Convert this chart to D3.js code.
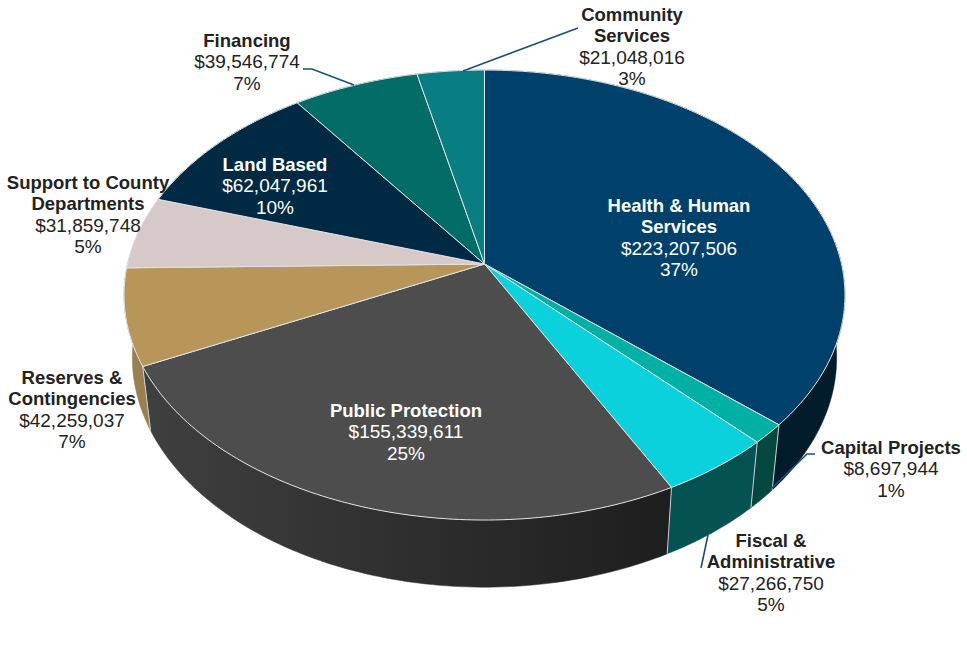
<!DOCTYPE html>
<html><head><meta charset="utf-8">
<script src="https://cdn.jsdelivr.net/npm/d3@7"></script>
<style>html,body{margin:0;padding:0;background:#fff}svg{display:block}</style>
</head><body><div id="chart"></div>
<script>
// ---- data ----
const categories = ["Health & Human Services","Capital Projects","Fiscal & Administrative","Public Protection","Reserves & Contingencies","Support to County Departments","Land Based","Financing","Community Services"];
const nameLines = [["Health & Human","Services"],["Capital Projects"],["Fiscal &","Administrative"],["Public Protection"],["Reserves &","Contingencies"],["Support to County","Departments"],["Land Based"],["Financing"],["Community","Services"]];
const budget = [223207506,8697944,27266750,155339611,42259037,31859748,62047961,39546774,21048016];
const percentLabels = ["37%","1%","5%","25%","7%","5%","10%","7%","3%"];
// ---- style and layout (not data) ----
const topColors = ["#00416b","#00b0a4","#0bd1dd","#4d4d4d","#b8965a","#d6c9c7","#002a44","#006c65","#087d82"];
const wallColors = ["#021c2c","#04473f","#055253","url(#wallGrad)","#9a7f50","#a89e9c","#001726","#00413d","#054b4e"];
const labelPos = [[679,212,"#fff"],[891,454,"#222"],[771,547,"#222"],[406,417,"#fff"],[72,384,"#222"],[88,189,"#222"],[275,171,"#fff"],[247,47,"#222"],[632,21,"#222"]];
const leaders = [
  [[463,71],[578,28]],
  [[354,85],[312,69],[303,69]],
  [[770,490],[807,454],[815,454]],
  [[708,535],[701,568]]
];
const W=967,H=659,P=0.138,step=Math.PI/180;

const svg=d3.select("#chart").append("svg").attr("width",W).attr("height",H);
const grad=svg.append("defs").append("linearGradient").attr("id","wallGrad")
  .attr("gradientUnits","userSpaceOnUse").attr("x1",150).attr("x2",665).attr("y1",0).attr("y2",0);
grad.append("stop").attr("offset",0).attr("stop-color","#3f3f3f");
grad.append("stop").attr("offset",1).attr("stop-color","#1e1e1e");

const sx=d3.scaleLinear().domain([-1,1]).range([484.5-357,484.5+357]);
const sy=d3.scaleLinear().domain([-1,1]).range([264-220.7,264+220.7]);
const bx=d3.scaleLinear().domain([-1,1]).range([484.5-357*.977,484.5+357*.977]);
const by=d3.scaleLinear().domain([-1,1]).range([326-220.7*1.02,326+220.7*1.02]);
const unit=a=>{const u=Math.sin(a),v=-Math.cos(a),d=1-P*v;return [u/d,v/d];};
const topPt=a=>{const [u,v]=unit(a);return [sx(u),sy(v)];};
const botPt=a=>{const [u,v]=unit(a);return [bx(u),by(v)];};
const line=d3.line();
const angles=(a0,a1)=>{const n=Math.max(2,Math.ceil((a1-a0)/step));return d3.range(n+1).map(i=>a0+(a1-a0)*i/n);};

const arcs=d3.pie().sort(null).value(d=>d)(budget);

// walls
const walls=svg.append("g");
walls.selectAll("path").data(arcs).join("path")
  .attr("d",d=>{const as=angles(d.startAngle,d.endAngle);
    return line(as.map(topPt).concat(as.slice().reverse().map(botPt)))+"Z";})
  .attr("fill",(d,i)=>wallColors[i]).attr("stroke",(d,i)=>wallColors[i]).attr("stroke-width",.5);
walls.selectAll("line").data(arcs).join("line")
  .each(function(d){const t=topPt(d.startAngle),b=botPt(d.startAngle);
    d3.select(this).attr("x1",t[0]).attr("y1",t[1]).attr("x2",b[0]).attr("y2",b[1]);})
  .attr("stroke","#c9d0d4").attr("stroke-width",1);

// top faces
svg.append("g").selectAll("path").data(arcs).join("path")
  .attr("d",d=>line([[sx(0),sy(0)]].concat(angles(d.startAngle,d.endAngle).map(topPt)))+"Z")
  .attr("fill",(d,i)=>topColors[i]).attr("stroke","#dfe3e5").attr("stroke-width",1).attr("stroke-linejoin","round");

// leaders
svg.append("g").selectAll("path").data(leaders).join("path")
  .attr("d",d=>line(d)).attr("fill","none").attr("stroke","#1b4f78").attr("stroke-width",1.6);

// labels
const money=d3.format("$,");
const lh=21.3;
const labels=svg.append("g").attr("font-family","'Liberation Sans',Arial,sans-serif").attr("font-size",19).attr("text-anchor","middle");
categories.forEach((c,i)=>{
  const [x,y,col]=labelPos[i];
  const t=labels.append("text").attr("fill",col).attr("aria-label",c);
  nameLines[i].forEach((s,k)=>t.append("tspan").attr("x",x).attr("y",y+k*lh).attr("font-size",18.5).attr("font-weight","bold").text(s));
  const n=nameLines[i].length;
  t.append("tspan").attr("x",x).attr("y",y+n*lh).text(money(budget[i]));
  t.append("tspan").attr("x",x).attr("y",y+(n+1)*lh).text(percentLabels[i]);
});
</script></body></html>
